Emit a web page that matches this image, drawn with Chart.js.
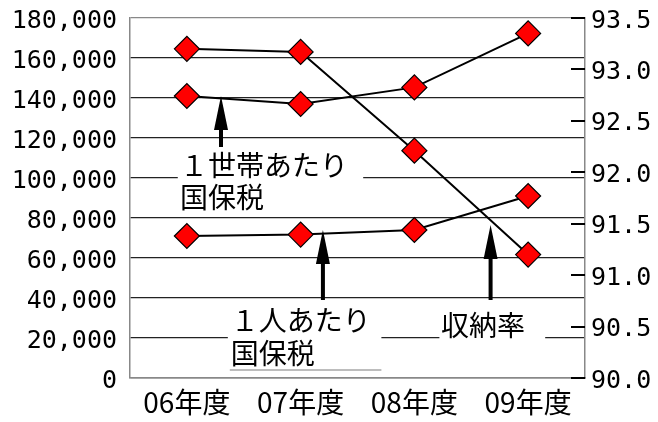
<!DOCTYPE html>
<html>
<head>
<meta charset="utf-8">
<script src="https://cdn.jsdelivr.net/npm/chart.js@4.4.1/dist/chart.umd.min.js"></script>
<style>
  html, body { margin: 0; padding: 0; background: #fff; }
  #wrap { width: 658px; height: 422px; }
</style>
</head>
<body>
<div id="wrap"><canvas id="c" width="658" height="422"></canvas></div>
<script>
// ---- data ----
const categories = ['06年度', '07年度', '08年度', '09年度'];
const perHouseholdTax = [141000, 137000, 145300, 172300];   // 1世帯あたり国保税 (left axis)
const perPersonTax = [71000, 71700, 74000, 91000];          // 1人あたり国保税 (left axis)
const collectionRate = [93.20, 93.17, 92.21, 91.20];        // 収納率 (right axis)
const leftTicks = [0, 20000, 40000, 60000, 80000, 100000, 120000, 140000, 160000, 180000];
const rightTicks = [90.0, 90.5, 91.0, 91.5, 92.0, 92.5, 93.0, 93.5];

// ---- annotation layout (in data units: x = category index, y = left-axis value) ----
const notes = [
  { lines: ['１世帯あたり', '国保税'], box: [-0.08, 1.55, 116000, 81500], textX: -0.06, lineY: [106500, 90500] },
  { lines: ['１人あたり', '国保税'], box: [0.36, 1.71, 38000, 5000], textX: 0.385, lineY: [29000, 12500], underline: 4000 },
  { lines: ['収納率'], box: [2.22, 3.15, 36000, 16000], textX: 2.235, lineY: [26500] }
];
const arrows = [
  { x: 0.30, tip: 141000, base: 115500 },
  { x: 1.196, tip: 74000, base: 39000 },
  { x: 2.67, tip: 76500, base: 39000 }
];

const CJK = "'Noto Sans CJK JP', 'Noto Sans', sans-serif";
const MONO = "'DejaVu Sans Mono', 'Liberation Mono', monospace";

const annotationPlugin = {
  id: 'notes',
  beforeDatasetsDraw(chart) {
    const ctx = chart.ctx, xs = chart.scales.x, ys = chart.scales.y;
    ctx.save();
    notes.forEach(n => {
      const x0 = xs.getPixelForValue(n.box[0]), x1 = xs.getPixelForValue(n.box[1]);
      const y0 = ys.getPixelForValue(n.box[2]), y1 = ys.getPixelForValue(n.box[3]);
      ctx.fillStyle = '#fff';
      ctx.fillRect(x0, y0, x1 - x0, y1 - y0);
      if (n.underline !== undefined) {
        const uy = ys.getPixelForValue(n.underline);
        ctx.strokeStyle = '#bdbdbd';
        ctx.lineWidth = 2;
        ctx.beginPath();
        ctx.moveTo(x0 + 2, uy);
        ctx.lineTo(x1, uy);
        ctx.stroke();
      }
      ctx.fillStyle = '#000';
      ctx.font = '28px ' + CJK;
      ctx.textAlign = 'left';
      ctx.textBaseline = 'middle';
      n.lines.forEach((t, i) => {
        ctx.fillText(t, xs.getPixelForValue(n.textX), ys.getPixelForValue(n.lineY[i]));
      });
    });
    ctx.restore();
  },
  afterDatasetsDraw(chart) {
    const ctx = chart.ctx, xs = chart.scales.x, ys = chart.scales.y, rs = chart.scales.y1;
    ctx.save();
    ctx.fillStyle = '#000';
    ctx.strokeStyle = '#000';
    arrows.forEach(a => {
      const x = xs.getPixelForValue(a.x);
      const ty = ys.getPixelForValue(a.tip), by = ys.getPixelForValue(a.base);
      const headLen = 34, headHalf = 7;
      ctx.lineWidth = 4;
      ctx.beginPath();
      ctx.moveTo(x, by);
      ctx.lineTo(x, ty + headLen - 2);
      ctx.stroke();
      ctx.beginPath();
      ctx.moveTo(x, ty);
      ctx.lineTo(x + headHalf, ty + headLen);
      ctx.lineTo(x - headHalf, ty + headLen);
      ctx.closePath();
      ctx.fill();
    });
    // right axis tick marks drawn inward
    const area = chart.chartArea;
    ctx.lineWidth = 2;
    rs.ticks.forEach(t => {
      const y = Math.round(rs.getPixelForValue(t.value));
      ctx.beginPath();
      ctx.moveTo(area.right - 14, y);
      ctx.lineTo(area.right, y);
      ctx.stroke();
    });
    ctx.restore();
  }
};

const lineStyle = {
  borderColor: '#000',
  borderWidth: 2,
  pointStyle: 'rectRot',
  pointRadius: 12.5,
  pointHoverRadius: 12.5,
  pointBackgroundColor: '#ff0000',
  pointBorderColor: '#000',
  pointBorderWidth: 1.2,
  tension: 0,
  fill: false
};

function fixVertical(width) {
  return function (s) {
    s.width = width;
    s.paddingTop = 0;
    s.paddingBottom = 0;
  };
}

new Chart(document.getElementById('c'), {
  type: 'line',
  data: {
    labels: categories,
    datasets: [
      Object.assign({ label: '1世帯あたり国保税', data: perHouseholdTax, yAxisID: 'y' }, lineStyle),
      Object.assign({ label: '1人あたり国保税', data: perPersonTax, yAxisID: 'y' }, lineStyle),
      Object.assign({ label: '収納率', data: collectionRate, yAxisID: 'y1' }, lineStyle)
    ]
  },
  options: {
    responsive: false,
    animation: false,
    devicePixelRatio: 1,
    layout: { padding: { top: 18, left: 0, right: 0, bottom: 0 } },
    plugins: { legend: { display: false }, tooltip: { enabled: false } },
    scales: {
      x: {
        offset: true,
        grid: { display: false, drawTicks: false },
        border: { display: true, color: '#888', width: 1.5 },
        ticks: { color: '#000', font: { family: CJK, size: 28 }, padding: 8, maxRotation: 0 },
        afterFit(s) { s.height = 44; s.paddingLeft = 0; s.paddingRight = 0; }
      },
      y: {
        position: 'left',
        min: 0, max: 180000,
        afterBuildTicks(s) { s.ticks = leftTicks.map(v => ({ value: v })); },
        grid: {
          drawTicks: false,
          color: c => (c.tick && c.tick.value === 180000) ? '#888' : '#222',
          lineWidth: 1.2
        },
        border: { display: true, color: '#888', width: 1.5 },
        ticks: {
          color: '#000', font: { family: MONO, size: 25 }, padding: 13, labelOffset: 3,
          callback: v => Number(v).toLocaleString('en-US')
        },
        afterFit: fixVertical(130)
      },
      y1: {
        position: 'right',
        min: 90, max: 93.5,
        afterBuildTicks(s) { s.ticks = rightTicks.map(v => ({ value: v })); },
        grid: { drawOnChartArea: false, drawTicks: false },
        border: { display: true, color: '#888', width: 1.5 },
        ticks: {
          color: '#000', font: { family: MONO, size: 25 }, padding: 6, labelOffset: 3,
          callback: v => Number(v).toFixed(1)
        },
        afterFit: fixVertical(73)
      }
    }
  },
  plugins: [annotationPlugin]
});
</script>
</body>
</html>
